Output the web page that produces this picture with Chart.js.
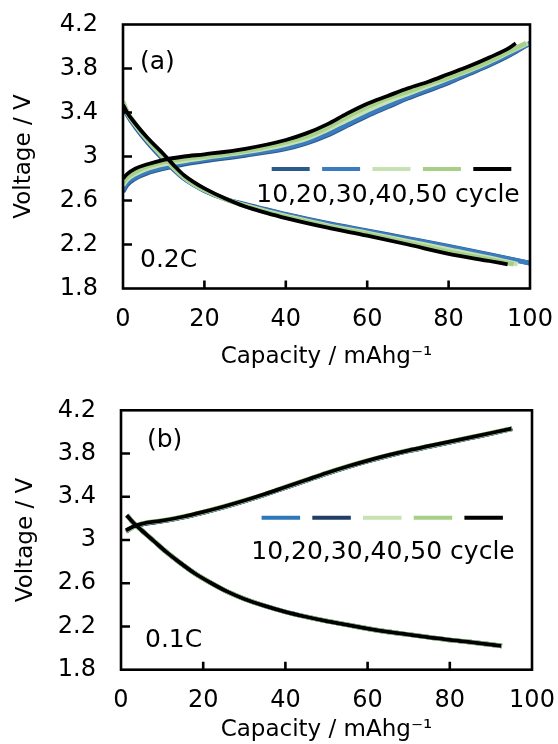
<!DOCTYPE html>
<html><head><meta charset="utf-8">
<script src="https://cdn.jsdelivr.net/npm/chart.js@4.4.0/dist/chart.umd.min.js"></script>
<style>
html,body{margin:0;padding:0;background:#fff;}
canvas{display:block;}
</style></head><body>
<canvas id="ca" width="558" height="372"></canvas>
<canvas id="cb" width="558" height="372"></canvas>
<script>
// ---------- axis ticks ----------
const xTicks = [0, 20, 40, 60, 80, 100];
const xTickLabels = ['0', '20', '40', '60', '80', '100'];
const yTicks = [1.8, 2.2, 2.6, 3.0, 3.4, 3.8, 4.2];
const yTickLabels = ['1.8', '2.2', '2.6', '3', '3.4', '3.8', '4.2'];
const cycles = ['10', '20', '30', '40', '50'];

// ---------- panel (a), 0.2C : charge ----------
const aChgCap10 = [0,1,3,6,10,15,20,30,40,45,50,55,60,65,70,75,80,85,90,95,100];
const aChgV10   = [2.68,2.74,2.80,2.85,2.89,2.93,2.96,3.01,3.07,3.12,3.19,3.28,3.37,3.45,3.53,3.60,3.67,3.75,3.83,3.92,4.03];
const aChgCap20 = [0,1,3,6,10,15,20,30,40,45,50,55,60,65,70,75,80,85,90,95,100];
const aChgV20   = [2.70,2.76,2.81,2.86,2.90,2.94,2.97,3.02,3.08,3.13,3.20,3.29,3.38,3.46,3.54,3.61,3.68,3.76,3.84,3.93,4.03];
const aChgCap30 = [0,1,3,6,10,15,20,30,40,45,50,55,60,65,70,75,80,85,90,95,99.5];
const aChgV30   = [2.74,2.79,2.84,2.89,2.93,2.96,2.99,3.04,3.11,3.16,3.24,3.33,3.42,3.50,3.57,3.64,3.71,3.78,3.86,3.95,4.03];
const aChgCap40 = [0,1,3,6,10,15,20,30,40,45,50,55,60,65,70,75,80,85,90,95,99];
const aChgV40   = [2.76,2.81,2.86,2.91,2.95,2.98,3.00,3.05,3.13,3.18,3.26,3.36,3.45,3.53,3.59,3.66,3.72,3.79,3.87,3.96,4.03];
const aChgCap50 = [0,1,3,6,10,15,20,30,40,45,50,55,60,65,70,75,80,85,90,95,96.5];
const aChgV50   = [2.80,2.84,2.89,2.93,2.97,3.00,3.02,3.07,3.15,3.21,3.29,3.39,3.48,3.55,3.62,3.68,3.75,3.82,3.90,3.99,4.03];

// ---------- panel (a), 0.2C : discharge ----------
const aDisCap10 = [0,1,3,6,10,12.5,15,17.5,20,25,30,35,40,50,60,70,80,90,100];
const aDisV10   = [3.46,3.38,3.27,3.13,2.97,2.88,2.80,2.74,2.69,2.615,2.565,2.52,2.475,2.395,2.325,2.255,2.185,2.11,2.03];
const aDisCap20 = [0,1,3,6,10,12.5,15,17.5,20,25,30,35,40,50,60,70,80,90,100];
const aDisV20   = [3.47,3.39,3.28,3.14,2.98,2.885,2.80,2.74,2.69,2.615,2.56,2.515,2.47,2.39,2.32,2.25,2.18,2.105,2.03];
const aDisCap30 = [0,1,3,6,10,12.5,15,17.5,20,25,30,35,40,50,60,70,80,90,97];
const aDisV30   = [3.49,3.40,3.29,3.15,2.99,2.895,2.81,2.745,2.695,2.615,2.555,2.505,2.46,2.375,2.305,2.23,2.155,2.08,2.02];
const aDisCap40 = [0,1,3,6,10,12.5,15,17.5,20,25,30,35,40,50,60,70,80,90,96];
const aDisV40   = [3.50,3.41,3.30,3.16,3.00,2.90,2.815,2.75,2.70,2.615,2.55,2.495,2.45,2.365,2.295,2.215,2.135,2.065,2.02];
const aDisCap50 = [0,1,3,6,10,12.5,15,17.5,20,25,30,35,40,50,60,70,80,90,94.5];
const aDisV50   = [3.47,3.40,3.30,3.17,3.02,2.92,2.83,2.765,2.71,2.62,2.545,2.49,2.44,2.355,2.28,2.20,2.115,2.05,2.02];

// ---------- panel (b), 0.1C : charge ----------
const bChgCap10 = [1.2,3,5,10,15,20,25,30,35,40,45,50,55,60,65,70,75,80,85,90,95.2];
const bChgV10   = [3.08,3.12,3.145,3.175,3.21,3.255,3.305,3.36,3.42,3.485,3.55,3.615,3.675,3.73,3.78,3.825,3.865,3.905,3.945,3.985,4.03];
const bChgCap20 = [1.2,3,5,10,15,20,25,30,35,40,45,50,55,60,65,70,75,80,85,90,95.2];
const bChgV20   = [3.08,3.12,3.145,3.175,3.21,3.255,3.305,3.36,3.42,3.485,3.55,3.615,3.675,3.73,3.78,3.825,3.865,3.905,3.945,3.985,4.03];
const bChgCap30 = [1.2,3,5,10,15,20,25,30,35,40,45,50,55,60,65,70,75,80,85,90,95.1];
const bChgV30   = [3.085,3.12,3.15,3.18,3.215,3.26,3.31,3.365,3.425,3.49,3.555,3.62,3.68,3.735,3.785,3.83,3.87,3.91,3.95,3.99,4.03];
const bChgCap40 = [1.2,3,5,10,15,20,25,30,35,40,45,50,55,60,65,70,75,80,85,90,95.1];
const bChgV40   = [3.085,3.12,3.15,3.18,3.215,3.26,3.31,3.365,3.425,3.49,3.555,3.62,3.68,3.735,3.785,3.83,3.87,3.91,3.95,3.99,4.03];
const bChgCap50 = [1.2,3,5,10,15,20,25,30,35,40,45,50,55,60,65,70,75,80,85,90,95];
const bChgV50   = [3.09,3.125,3.15,3.18,3.215,3.26,3.31,3.365,3.425,3.49,3.555,3.62,3.68,3.735,3.785,3.83,3.87,3.91,3.95,3.99,4.03];

// ---------- panel (b), 0.1C : discharge ----------
const bDisCap10 = [1.4,3,5,8,11,14,18,22,26,30,35,40,45,50,55,60,65,70,75,80,85,92.7];
const bDisV10   = [3.23,3.16,3.09,2.99,2.89,2.80,2.69,2.60,2.52,2.455,2.39,2.335,2.29,2.25,2.215,2.18,2.15,2.125,2.10,2.075,2.055,2.02];
const bDisCap20 = [1.4,3,5,8,11,14,18,22,26,30,35,40,45,50,55,60,65,70,75,80,85,92.7];
const bDisV20   = [3.23,3.16,3.09,2.99,2.89,2.80,2.69,2.60,2.52,2.455,2.39,2.335,2.29,2.25,2.215,2.18,2.15,2.125,2.10,2.075,2.055,2.02];
const bDisCap30 = [1.4,3,5,8,11,14,18,22,26,30,35,40,45,50,55,60,65,70,75,80,85,92.6];
const bDisV30   = [3.23,3.16,3.09,2.99,2.89,2.80,2.69,2.60,2.52,2.455,2.39,2.335,2.29,2.25,2.215,2.18,2.15,2.125,2.10,2.075,2.055,2.02];
const bDisCap40 = [1.4,3,5,8,11,14,18,22,26,30,35,40,45,50,55,60,65,70,75,80,85,92.6];
const bDisV40   = [3.23,3.16,3.09,2.99,2.89,2.80,2.69,2.60,2.52,2.455,2.39,2.335,2.29,2.25,2.215,2.18,2.15,2.125,2.10,2.075,2.055,2.02];
const bDisCap50 = [1.4,3,5,8,11,14,18,22,26,30,35,40,45,50,55,60,65,70,75,80,85,92.5];
const bDisV50   = [3.23,3.16,3.09,2.99,2.89,2.80,2.69,2.60,2.52,2.455,2.39,2.335,2.29,2.25,2.215,2.18,2.15,2.125,2.10,2.075,2.055,2.02];

// ---------- styles ----------
const FONT = "'DejaVu Sans', 'Liberation Sans', sans-serif";
const colorsA = {'10':'#2c5b8b','20':'#3b7cc1','30':'#c6e2b3','40':'#a6cf88','50':'#000000'};
const colorsB = {'10':'#2e77b9','20':'#213f66','30':'#c6e2b3','40':'#a6cf88','50':'#000000'};
const drawOrder = {'50':0,'40':1,'30':2,'20':3,'10':4};

function pts(xs, ys) { return xs.map((x, i) => ({x: x, y: ys[i]})); }

function buildSets(curves, colors) {
  return curves.map(c => ({
    label: c.cycle + ' ' + c.kind,
    data: pts(c.cap, c.v),
    borderColor: colors[c.cycle],
    backgroundColor: colors[c.cycle],
    borderWidth: c.cycle === '50' ? 3.8 : 4.6,
    pointRadius: 0,
    fill: false,
    cubicInterpolationMode: 'monotone',
    order: drawOrder[c.cycle]
  }));
}

const curvesA = [
  {cycle:'10',kind:'charge',cap:aChgCap10,v:aChgV10},{cycle:'20',kind:'charge',cap:aChgCap20,v:aChgV20},
  {cycle:'30',kind:'charge',cap:aChgCap30,v:aChgV30},{cycle:'40',kind:'charge',cap:aChgCap40,v:aChgV40},
  {cycle:'50',kind:'charge',cap:aChgCap50,v:aChgV50},
  {cycle:'10',kind:'discharge',cap:aDisCap10,v:aDisV10},{cycle:'20',kind:'discharge',cap:aDisCap20,v:aDisV20},
  {cycle:'30',kind:'discharge',cap:aDisCap30,v:aDisV30},{cycle:'40',kind:'discharge',cap:aDisCap40,v:aDisV40},
  {cycle:'50',kind:'discharge',cap:aDisCap50,v:aDisV50}
];
const curvesB = [
  {cycle:'10',kind:'charge',cap:bChgCap10,v:bChgV10},{cycle:'20',kind:'charge',cap:bChgCap20,v:bChgV20},
  {cycle:'30',kind:'charge',cap:bChgCap30,v:bChgV30},{cycle:'40',kind:'charge',cap:bChgCap40,v:bChgV40},
  {cycle:'50',kind:'charge',cap:bChgCap50,v:bChgV50},
  {cycle:'10',kind:'discharge',cap:bDisCap10,v:bDisV10},{cycle:'20',kind:'discharge',cap:bDisCap20,v:bDisV20},
  {cycle:'30',kind:'discharge',cap:bDisCap30,v:bDisV30},{cycle:'40',kind:'discharge',cap:bDisCap40,v:bDisV40},
  {cycle:'50',kind:'discharge',cap:bDisCap50,v:bDisV50}
];

const framePlugin = {
  id: 'frame',
  afterDatasetsDraw(chart, args, o) {
    const {ctx, chartArea: a, scales: {x, y}} = chart;
    ctx.save();
    ctx.strokeStyle = '#000';
    ctx.lineWidth = 2.6;
    ctx.beginPath();
    yTicks.slice(1, -1).forEach(v => { const p = y.getPixelForValue(v); ctx.moveTo(a.left, p); ctx.lineTo(a.left + 9, p); });
    xTicks.slice(1, -1).forEach(v => { const p = x.getPixelForValue(v); ctx.moveTo(p, a.bottom); ctx.lineTo(p, a.bottom - 8); });
    ctx.stroke();
    ctx.strokeRect(a.left, a.top, a.right - a.left, a.bottom - a.top);
    // legend swatches
    ctx.lineWidth = 4;
    ctx.lineCap = 'butt';
    o.legendOrder.forEach((cyc, i) => {
      ctx.strokeStyle = o.colors[cyc];
      const x0 = o.legX + i * o.legStep;
      ctx.beginPath(); ctx.moveTo(x0, o.legY); ctx.lineTo(x0 + o.legLen, o.legY); ctx.stroke();
    });
    ctx.fillStyle = '#000';
    ctx.textBaseline = 'middle';
    ctx.font = '25px ' + FONT;
    ctx.textAlign = 'center';
    ctx.fillText(cycles.join(',') + ' cycle', o.legTextX, o.legTextY);
    ctx.textAlign = 'left';
    ctx.fillText(o.tag, o.tagX, o.tagY);
    ctx.fillText(o.rate, o.rateX, o.rateY);
    ctx.restore();
  }
};

function makeChart(id, curves, colors, lay, frameOpts) {
  return new Chart(document.getElementById(id), {
    type: 'line',
    data: {datasets: buildSets(curves, colors)},
    plugins: [framePlugin],
    options: {
      responsive: false,
      animation: false,
      layout: {padding: {top: lay.top, right: lay.right, left: 0, bottom: 0}},
      plugins: {legend: {display: false}, tooltip: {enabled: false}, frame: frameOpts},
      scales: {
        x: {
          type: 'linear', min: 0, max: 100,
          afterBuildTicks: s => { s.ticks = xTicks.map(v => ({value: v})); },
          afterFit: s => { s.height = lay.xh; s.paddingLeft = 0; s.paddingRight = 0; s.paddingTop = 0; s.paddingBottom = 0; },
          ticks: {callback: (v, i) => xTickLabels[i], font: {family: FONT, size: 24}, color: '#000', padding: 17, maxRotation: 0, autoSkip: false},
          grid: {drawOnChartArea: false, drawTicks: false},
          border: {display: false},
          title: {display: true, text: 'Capacity / mAhg\u207B\u00B9', color: '#000', font: {family: FONT, size: 23}, padding: {top: 0, bottom: lay.xtb}}
        },
        y: {
          type: 'linear', min: 1.8, max: 4.2,
          afterBuildTicks: s => { s.ticks = yTicks.map(v => ({value: v})); },
          afterFit: s => { s.width = lay.yw; s.paddingLeft = 0; s.paddingRight = 0; s.paddingTop = 0; s.paddingBottom = 0; },
          ticks: {callback: (v, i) => yTickLabels[i], font: {family: FONT, size: 24}, color: '#000', padding: 25, autoSkip: false},
          grid: {drawOnChartArea: false, drawTicks: false},
          border: {display: false},
          title: {display: true, text: 'Voltage / V', color: '#000', font: {family: FONT, size: 23}, padding: {top: lay.ytp, bottom: 0}}
        }
      }
    }
  });
}

makeChart('ca', curvesA, colorsA,
  {top: 24.5, right: 28, xh: 83.5, yw: 123, ytp: 10, xtb: 1},
  {legendOrder: ['10','20','30','40','50'], colors: colorsA, legX: 271.7, legStep: 50.4, legLen: 38, legY: 169,
   legTextX: 388, legTextY: 195, tag: '(a)', tagX: 140, tagY: 62, rate: '0.2C', rateX: 140, rateY: 260});

makeChart('cb', curvesB, colorsB,
  {top: 38.3, right: 26, xh: 74.3, yw: 121, ytp: 12, xtb: 0},
  {legendOrder: ['10','20','30','40','50'], colors: colorsB, legX: 261.6, legStep: 50.7, legLen: 38.5, legY: 145.7,
   legTextX: 383, legTextY: 180, tag: '(b)', tagX: 147, tagY: 68, rate: '0.1C', rateX: 145, rateY: 268});
</script>
</body></html>
